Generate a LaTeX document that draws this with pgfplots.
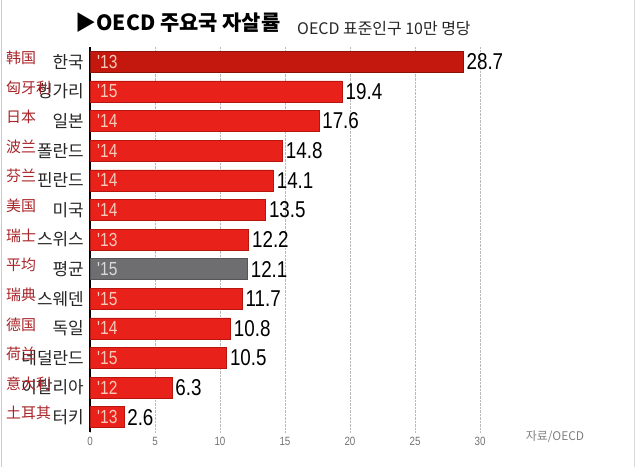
\documentclass[border=0pt]{standalone}
\usepackage{fontspec}
\usepackage{pgfplots}
\pgfplotsset{compat=1.18}
\setmainfont{Liberation Sans}
\newfontfamily\kr{Noto Sans CJK KR}
\newfontfamily\zh{Noto Sans CJK SC}
\newfontfamily\nar[FakeStretch=0.82]{Liberation Sans}
\definecolor{barred}{HTML}{E8221A}
\definecolor{bardark}{HTML}{B8150E}
\definecolor{krred}{HTML}{C4180E}
\definecolor{krdark}{HTML}{8A140C}
\definecolor{avggray}{HTML}{6E6E70}
\definecolor{avgdark}{HTML}{555557}
\definecolor{yearpink}{HTML}{F8C8B8}
\definecolor{zhred}{HTML}{A82428}
\begin{document}
\begin{tikzpicture}
\begin{axis}[
  at={(0,0)}, anchor=south west,
  scale only axis, width=390bp, height=385bp,
  xmin=0, xmax=30, ymin=-0.5, ymax=12.5, y dir=reverse,
  axis lines*=left,
  x axis line style={draw=none},
  y axis line style={line width=1.6bp, black},
  xtick={0,5,...,30}, ytick={0,...,12},
  yticklabels={한국,헝가리,일본,폴란드,핀란드,미국,스위스,평균,스웨덴,독일,네덜란드,이탈리아,터키},
  major tick length=0pt,
  xmajorgrids, grid style={densely dotted, gray!55, line width=0.6bp},
  /pgf/number format/assume math mode=true,
  xticklabel style={font=\nar\fontsize{12}{12}\selectfont, text=gray!90!black, yshift=-2bp},
  yticklabel style={font=\kr\fontsize{17}{17}\selectfont, text=black!85, inner sep=0pt, xshift=-6bp},
  clip=false,
  every node near coord/.append style={font=\nar\fontsize{23}{23}\selectfont, text=black, anchor=west},
  nodes near coords={\pgfmathprintnumber[fixed,fixed zerofill,precision=1,assume math mode=true]{\pgfplotspointmeta}},
]
\addplot[xbar, bar width=21bp, bar shift=0pt, fill=krred, draw=krdark, point meta=x, nodes near coords] coordinates {(28.7,0)};
\addplot[xbar, bar width=21bp, bar shift=0pt, fill=barred, draw=bardark, point meta=x, nodes near coords] coordinates {
(19.4,1) (17.6,2) (14.8,3) (14.1,4) (13.5,5) (12.2,6) (11.7,8) (10.8,9) (10.5,10) (6.3,11) (2.6,12)};
\addplot[xbar, bar width=21bp, bar shift=0pt, fill=avggray, draw=avgdark, point meta=x, nodes near coords] coordinates {(12.1,7)};
% year labels inside bars
\addplot[only marks, mark=none, draw=none, point meta=explicit symbolic,
  nodes near coords={\pgfplotspointmeta},
  every node near coord/.style={font=\nar\fontsize{19}{19}\selectfont, text=yearpink, anchor=west, inner sep=0pt, xshift=7bp}]
  coordinates {(0,0) ['13] (0,1) ['15] (0,2) ['14] (0,3) ['14] (0,4) ['14] (0,5) ['14] (0,6) ['13]
  (0,8) ['15] (0,9) ['14] (0,10) ['15] (0,11) ['12] (0,12) ['13]};
\addplot[only marks, mark=none, draw=none, point meta=explicit symbolic,
  nodes near coords={\pgfplotspointmeta},
  every node near coord/.style={font=\nar\fontsize{19}{19}\selectfont, text=gray!30, anchor=west, inner sep=0pt, xshift=7bp}]
  coordinates {(0,7) ['15]};
% Chinese overlay labels
\foreach \lab [count=\i from 0] in {韩国,匈牙利,日本,波兰,芬兰,美国,瑞士,平均,瑞典,德国,荷兰,意大利,土耳其}{
  \edef\temp{\noexpand\node[anchor=west, font=\noexpand\zh\noexpand\fontsize{15}{15}\noexpand\selectfont, text=zhred, inner sep=0pt, xshift=-84bp, yshift=4bp] at (axis cs:0,\i) {\lab};}
  \temp
}
\end{axis}
% title
\node[font=\kr\bfseries\fontsize{21}{21}\selectfont, inner sep=0pt] at (88bp,409bp) {▶OECD 주요국 자살률};
\node[font=\kr\fontsize{16}{16}\selectfont, anchor=west, inner sep=0pt, text=black!85] at (207bp,403bp) {OECD 표준인구 10만 명당};
\node[font=\kr\fontsize{12}{12}\selectfont, text=gray, inner sep=0pt] at (465bp,-5bp) {자료/OECD};
\draw[gray!40, line width=1bp] (-88bp,-35bp) -- (-88bp,432bp);
\draw[gray!30, line width=1bp] (544bp,-35bp) -- (544bp,432bp);
\pgfresetboundingbox
\path[use as bounding box] (-90bp,-35bp) rectangle (550bp,432bp);
\end{tikzpicture}
\end{document}
